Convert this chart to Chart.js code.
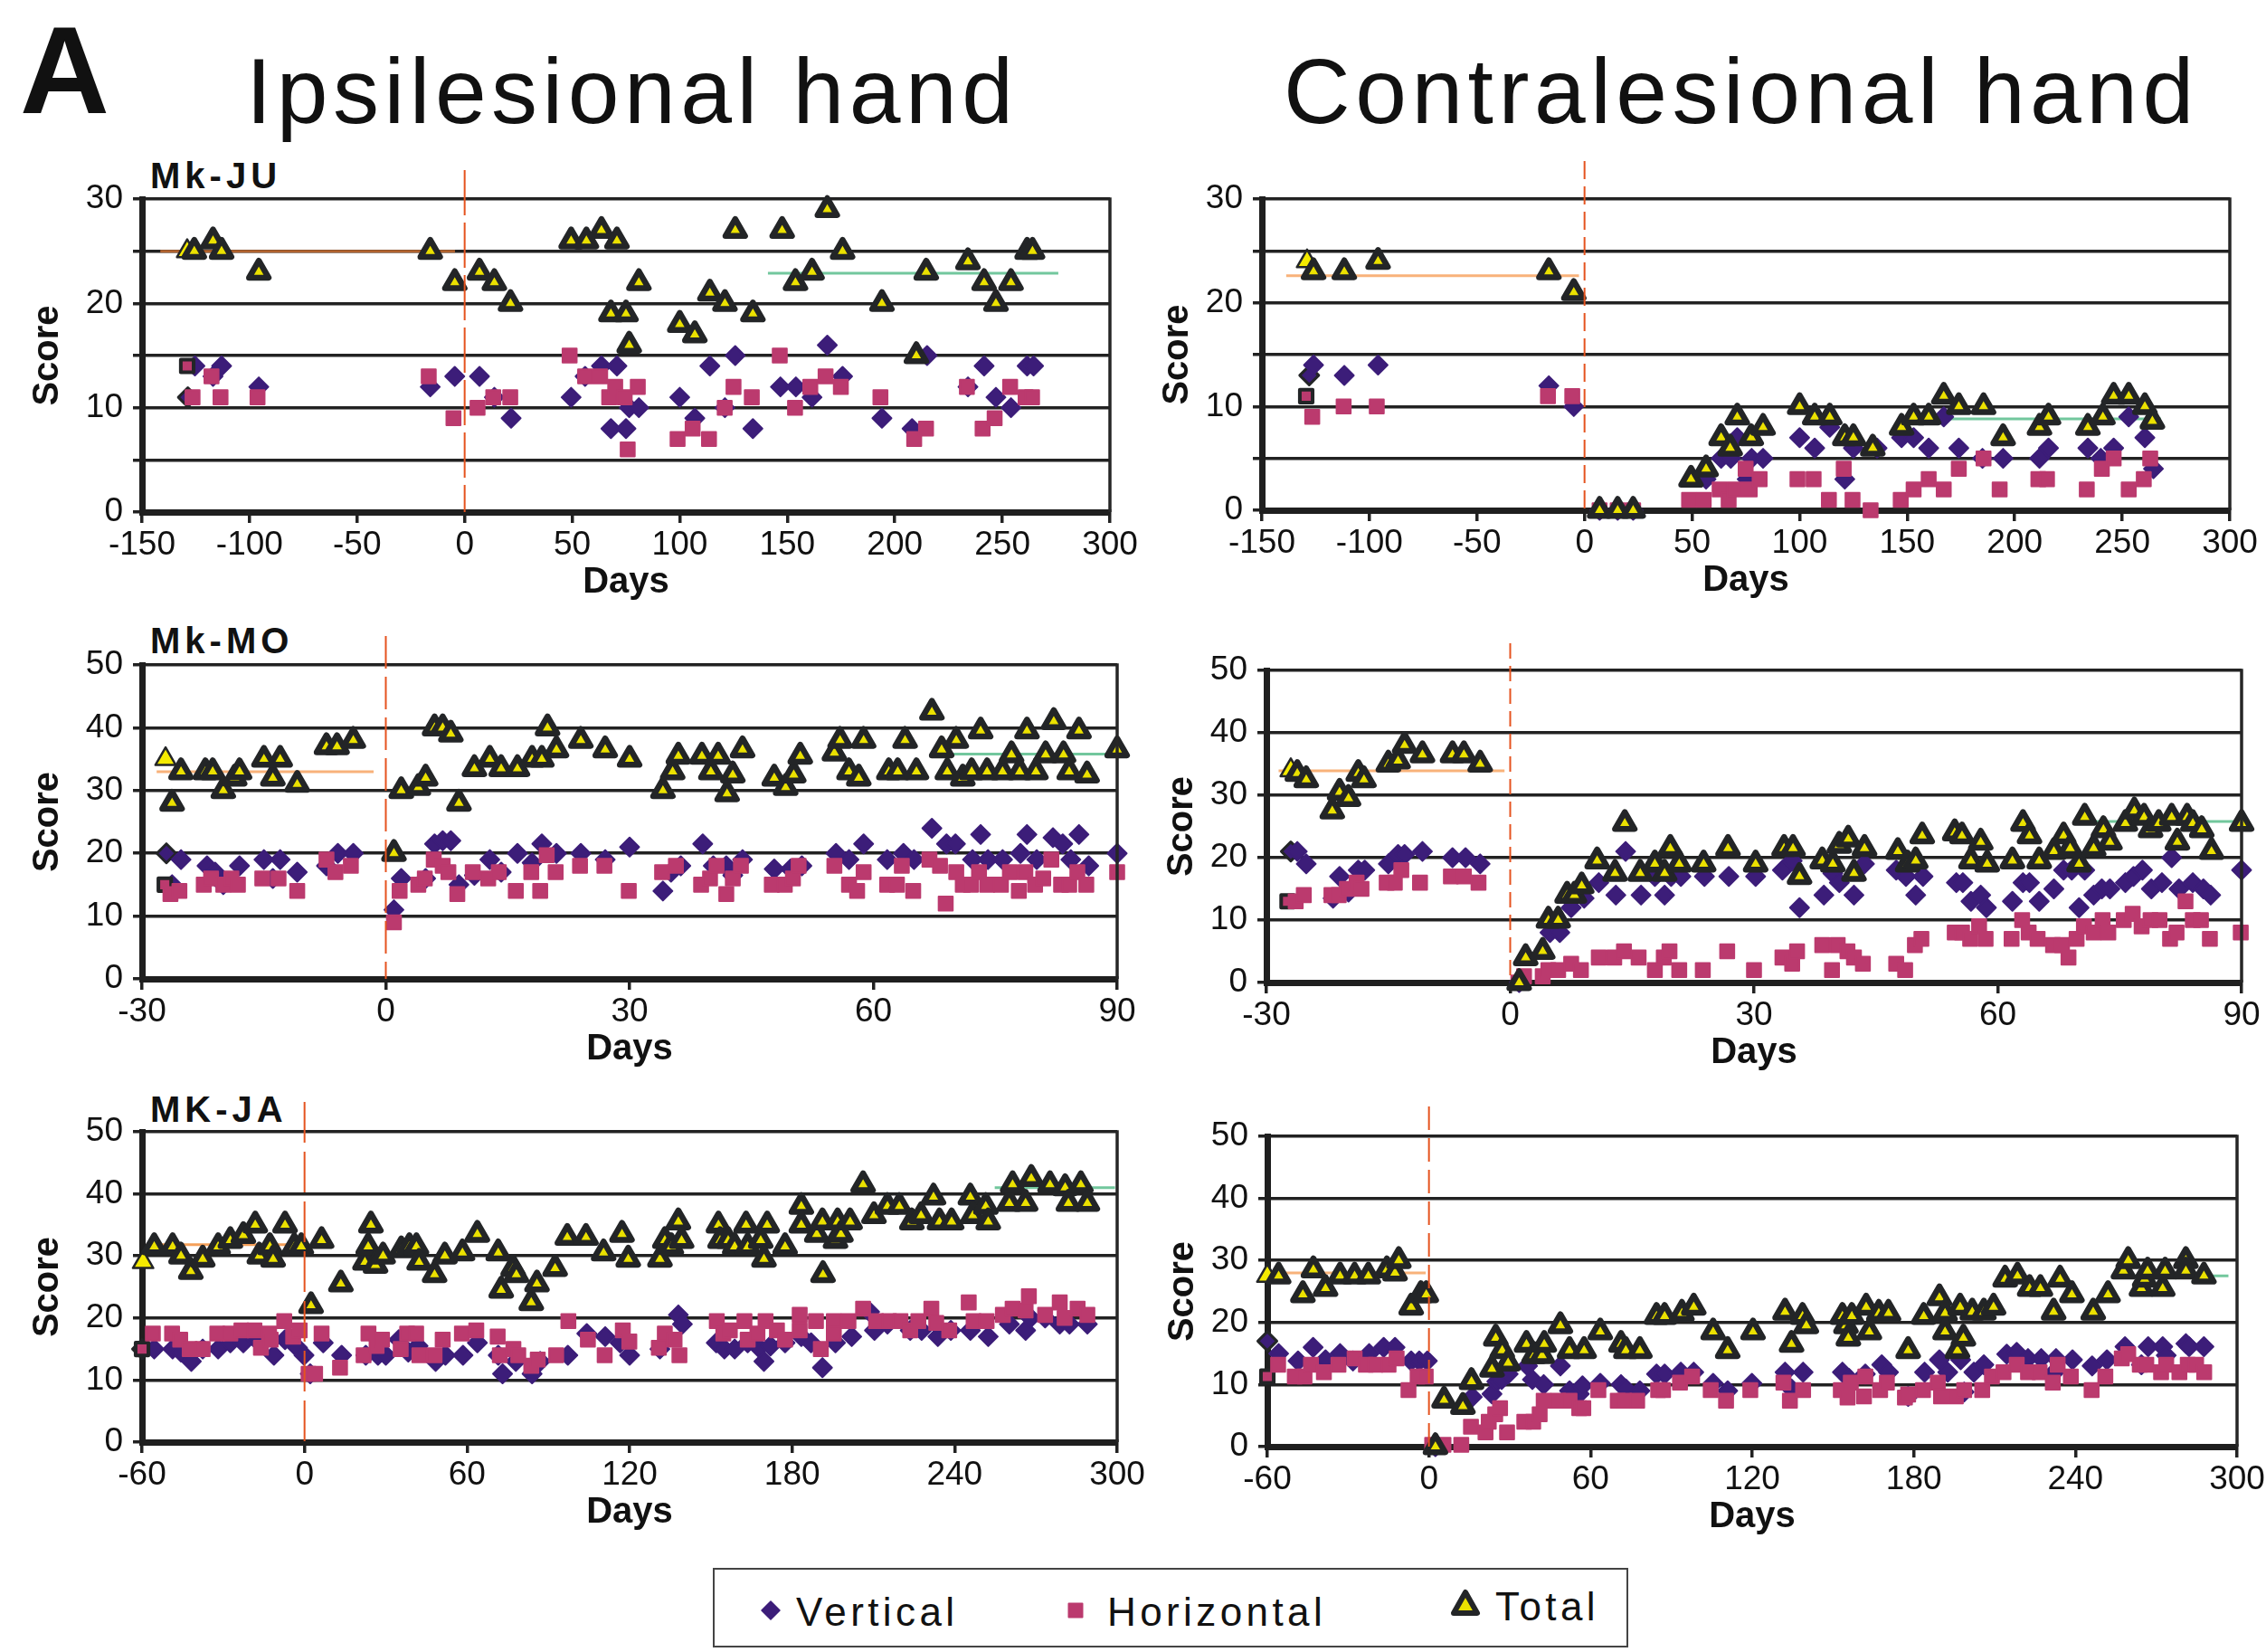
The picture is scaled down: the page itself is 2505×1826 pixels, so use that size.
<!DOCTYPE html>
<html><head><meta charset="utf-8">
<script src="https://cdn.jsdelivr.net/npm/chart.js@4.4.1/dist/chart.umd.min.js"></script>
<style>
body{margin:0;width:2505px;height:1826px;background:#fff;position:relative;overflow:hidden;font-family:"Liberation Sans",Arial,sans-serif;}
canvas{position:absolute;}
.t{position:absolute;line-height:1;white-space:nowrap;color:#111;}
</style></head><body>
<script>
// ---------------- DATA: [day, score] ----------------
const juIpsiTotal = [[-129,25],[-125.7,25],[-117,26],[-113,25],[-95.7,23],[-16,25],[-4.6,22],[6.9,23],[13.8,22],[21.3,20],[49.5,26],[56.6,26],[63.6,27],[68,19],[70.8,26],[75,19],[76.5,16],[81,22],[100,18],[107,17],[114,21],[121,20],[125.8,27],[134,19],[147.6,27],[153.8,22],[161.5,23],[168.6,29],[175.7,25],[194,20],[210,15],[214.6,23],[234,24],[241.5,22],[247,20],[254,22],[261.5,25],[264,25]];
const juIpsiVertical = [[-128.7,11],[-125.4,14],[-117,13],[-113,14],[-95.7,12],[-16,12],[-4.6,13],[6.9,13],[13.8,11],[21.6,9],[49.5,11],[56,13],[63.6,14],[68,8],[70.8,14],[75,8],[76.5,10],[81,10],[100,11],[107,9],[114,14],[121,10],[125.8,15],[134,8],[146.8,12],[154,12],[161.5,11],[168.6,16],[175.7,13],[194,9],[208,8],[215,15],[234,12],[241.5,14],[247,11],[254,10],[261.5,14],[264.5,14]];
const juIpsiHorizontal = [[-129,14],[-126.5,11],[-117.7,13],[-113.5,11],[-96.3,11],[-16.7,13],[-5.2,9],[6,10],[13.3,11],[21.2,11],[48.8,15],[56,13],[63,13],[67.2,11],[70,12],[74.4,11],[75.8,6],[80.5,12],[99,7],[106,8],[113.6,7],[120.9,10],[125,12],[133.5,11],[146.5,15],[153.6,10],[160.7,12],[167.8,13],[174.9,12],[193.3,11],[209,7],[214.5,8],[233.5,12],[240.8,8],[246.4,9],[253.6,12],[260.8,11],[263.8,11]];
const juIpsiPreMean = [[-141.5,25],[-4.5,25]];
const juIpsiPostMean = [[141,22.9],[276,22.9]];

const juContraTotal = [[-129,24],[-126,23],[-111.7,23],[-96,24],[-16.6,23],[-5,21],[7,0],[15.4,0],[22.6,0],[49.5,3],[56.5,4],[63.5,7],[67.7,6],[71,9],[77.5,7],[83,8],[100,10],[107,9],[114,9],[121,7],[125,7],[134,6],[147.4,8],[153,9],[160,9],[167,11],[174,10],[185.5,10],[194.6,7],[211.5,8],[215.7,9],[234,8],[241,9],[246,11],[253,11],[260.5,10],[264,8.6]];
const juContraVertical = [[-128,13],[-126,14],[-111.7,13],[-96,14],[-16.6,12],[-5,10],[7,0],[15.4,0],[22.6,0],[56.5,3],[63.5,5],[68,5],[71,7],[75.6,3],[77.7,5],[83,5],[100,7],[107,6],[114,8],[121,3],[125,6],[136,6],[147.4,7],[153,7],[160,6],[167,9],[174,6],[185,5],[194.6,5],[211.5,5],[215.7,6],[234,6],[240,5],[246,6],[253,9],[260.5,7],[264.5,4]];
const juContraHorizontal = [[-129.4,11],[-126.6,9],[-112,10],[-96.6,10],[-17,11],[-5.7,11],[7,0],[15.4,0],[22.6,0],[48.6,1],[55.4,1],[62.8,2],[67,1],[69.8,2],[74.9,4],[76.8,2],[81.4,3],[99,3],[106.5,3],[113.6,1],[120.5,4],[124.6,1],[133,0],[147,1],[153,2],[160,3],[167,2],[174,4],[185.5,5],[193,2],[211,3],[215,3],[233.5,2],[240.5,4],[246,5],[253,2],[260,3],[263,5]];
const juContraPreMean = [[-138.7,22.6],[-2.6,22.6]];
const juContraPostMean = [[149.5,8.8],[268,8.8]];

const moIpsiTotal = [[-27.1,35],[-26.3,28],[-25.2,33],[-22.2,33],[-21.3,33],[-20,30],[-18.6,32],[-18,33],[-15,35],[-13.9,32],[-13,35],[-10.9,31],[-7.3,37],[-6,37],[-4,38],[1,20],[1.9,30],[4,30.5],[4.9,32],[6,40],[7,40],[8,39],[9,28],[10.9,33.5],[12.8,35],[14.2,33.5],[16.2,33.5],[18,35],[19.2,35],[19.9,40],[21,36.5],[24,38],[27,36.5],[30,35],[34.1,30],[35.3,33],[36,35.5],[38.9,35.5],[40,33],[40.9,35.5],[42,29.5],[42.7,32.5],[43.9,36.5],[47.8,32],[49.2,30.5],[50.2,32.5],[51,35.5],[55.2,36],[55.9,38],[57,33],[58.2,32],[58.8,38],[61.9,33],[63,33],[63.9,38],[65.3,33],[67.2,42.5],[68.4,36.5],[69.1,33],[70.2,38],[71,32],[72.1,33],[73.2,39.5],[74,33],[75.9,33],[77,35.7],[78,33],[78.9,39.5],[80,33],[81.2,35.7],[82.2,41],[83.4,35.7],[84.1,33],[85.3,39.5],[86.3,32.5],[90,36.5]];
const moIpsiVertical = [[-27,20],[-26.3,15],[-25.2,19],[-22,18],[-21,17],[-20,15],[-18,18],[-15,19],[-13.9,16],[-13,19],[-10.9,17],[-7.3,18],[-5.9,20],[-4,20],[1,11],[1.9,16],[4.9,16],[6,21.5],[7,22],[8,22],[9,15],[10.9,16.5],[12.8,19],[14.2,17],[16.2,20],[18,18.5],[19.2,21.5],[21,20],[24,20],[27,19],[30,21],[34.1,14],[35.1,17],[36.3,18],[39,21.5],[40.3,18],[41.9,18],[42.7,16.5],[43.9,19],[47.8,17.5],[49.8,17.5],[51.2,18],[55.4,20],[57,19],[58.8,21.5],[61.7,19],[63.7,20],[65,19],[67.2,24],[69,21.5],[70.1,21.5],[72.2,19],[73.2,23],[74.1,19],[75.9,19],[78.1,20],[78.9,23],[80.1,19],[82.1,22.5],[83.3,21.5],[84.3,19],[85.3,23],[86.5,18],[90,20]];
const moIpsiHorizontal = [[-27.2,15],[-26.5,13.5],[-25.4,14],[-22.4,15],[-21.5,16],[-20,15],[-19,16],[-18.2,15],[-15.2,16],[-13.2,16],[-10.9,14],[-7.3,19],[-6.2,17],[-4.3,18],[1,9],[1.7,14],[4,15],[4.8,16],[5.9,19],[7,18],[7.7,17],[8.8,13.5],[10.7,17],[12.6,16],[13.9,17],[16,14],[17.9,17],[19,14],[19.8,19.7],[20.9,17],[23.9,18],[26.9,18],[29.9,14],[34,17],[35.7,18],[38.8,15],[39.9,16],[40.7,18],[41.9,13.5],[42.7,16],[43.7,18],[47.5,15],[49.1,15],[50.1,16],[50.8,18],[55.2,18],[57,15],[58,14],[58.8,17],[61.7,15],[62.9,15],[63.5,18],[64.9,14],[66.9,19],[68.2,18],[68.9,12],[70.2,17],[71,15],[72,15],[73,17],[74,15],[75.7,15],[76.8,17],[77.9,14],[78.7,17],[79.9,15],[80.9,16],[81.9,19],[83.1,15],[84.1,15],[85.1,17],[86.2,15],[90,17]];
const moIpsiPreMean = [[-28.2,33],[-1.5,33]];
const moIpsiPostMean = [[69.6,35.8],[90,35.8]];

const moContraTotal = [[-27,34],[-26.2,33.5],[-25.1,32.5],[-21.9,27.5],[-21,30.5],[-19.9,29.5],[-18.7,33.5],[-18,32.5],[-15,35],[-13.8,35.5],[-13,38],[-10.8,36.5],[-7.1,36.5],[-5.7,36.5],[-3.7,35],[1.1,0],[1.9,4],[4,5],[4.7,10],[5.9,10],[7,14],[7.9,14],[8.8,15.5],[10.7,19.5],[12.9,17.5],[14.1,25.5],[16,17.5],[17.8,19],[19,17.5],[19.7,21.5],[20.8,19],[23.8,19],[26.8,21.5],[30.2,19],[33.7,21.5],[34.8,21.5],[35.6,17],[38.4,19.5],[39.7,19],[40.5,22],[41.6,23],[42.3,17.5],[43.6,21.5],[47.7,21],[48.9,19],[49.9,19.5],[50.7,23.5],[54.7,24],[55.6,23.5],[56.7,19.5],[57.9,22.5],[58.7,19],[61.8,19.5],[63.1,25.5],[63.9,23.5],[65.1,19.5],[66.9,21],[68.1,23.5],[68.9,21.5],[70,19],[70.7,26.5],[71.8,21.5],[73,24.5],[73.8,22.5],[75.7,25.5],[76.8,27.5],[78,26.5],[78.8,24.5],[79.8,25.5],[81.4,26.5],[82.1,22.5],[83.3,26.5],[84,25.5],[85.1,24.5],[86.3,21],[90,25.5]];
const moContraVertical = [[-27,21],[-26.2,21],[-25.1,19],[-21.8,13.5],[-21,17],[-19.9,14.5],[-18.7,18],[-17.9,18],[-15,19],[-13.8,20.5],[-13,20.5],[-10.8,21],[-7.1,20],[-5.5,20],[-3.7,19],[1.1,0],[4.9,8],[6.1,8],[7.5,12],[9.1,13.5],[10.9,16],[13,14],[14.2,21],[16.1,14],[17.8,17],[19,14],[19.8,17],[21,17],[23.9,17],[26.9,17],[30.2,17],[33.5,18],[34.7,19.5],[35.6,12],[38.6,14],[39.7,17.5],[40.5,16],[42.3,14],[43.6,19],[47.5,18],[48.7,17],[49.9,14],[50.8,17],[54.9,16],[55.7,16],[56.7,13],[57.9,14],[58.6,12],[61.8,13],[63.1,16],[63.9,16],[65.1,13],[66.9,15],[68.1,18],[69.1,18],[70,12],[70.7,18],[71.8,14],[72.8,15],[73.8,15],[75.7,16],[76.7,17],[77.8,18],[78.9,15],[80.2,16],[81.4,20],[82.3,15],[84,16],[85.3,15],[86.2,14],[90,18]];
const moContraHorizontal = [[-27.4,13],[-26.4,13],[-25.4,14],[-22,14],[-21.1,14],[-20.1,15],[-18.9,16],[-18.3,15],[-15.2,16],[-14.2,16],[-13.4,18],[-11.1,16],[-7.3,17],[-5.7,17],[-3.9,16],[1,0],[1.7,1],[4,1],[4.7,2],[5.9,2],[7.5,3],[8.7,2],[10.9,4],[12.8,4],[14,5],[15.8,4],[17.8,2],[18.9,4],[19.6,5],[20.8,2],[23.7,2],[26.7,5],[30,2],[33.5,4],[34.7,3],[35.3,5],[38.4,6],[39.6,2],[40.3,6],[41.5,5],[42.3,4],[43.4,3],[47.5,3],[48.6,2],[49.8,6],[50.6,7],[54.7,8],[55.6,8],[56.6,7],[57.7,9],[58.5,7],[61.7,7],[63,10],[63.8,8],[64.9,7],[66.8,6],[67.9,6],[68.7,4],[69.7,7],[70.6,9],[71.8,8],[72.9,10],[73.6,8],[75.5,10],[76.6,11],[77.7,9],[78.8,10],[79.9,10],[81.2,7],[82,8],[83.1,13],[84,10],[85,10],[86.1,7],[89.9,8]];
const moContraPreMean = [[-28.5,33.9],[-0.7,33.9]];
const moContraPostMean = [[69.3,25.8],[90,25.8]];

const jaIpsiTotal = [[-59.6,29],[-55.5,31.5],[-48.7,31.5],[-45.6,30],[-42,27.5],[-37.6,29.5],[-31.9,31.5],[-27.4,32.5],[-22.6,33.3],[-18.2,35],[-16.7,30],[-12.8,31.5],[-11.6,29.5],[-7.2,35],[-3.8,31.5],[-1.2,31.5],[2.4,22],[6.3,32.5],[13.4,25.5],[22.3,29],[23.5,31.5],[24.5,35],[26.2,28.5],[29,30],[35.7,31],[38.7,31.5],[41.3,31.5],[42.3,29],[48,27],[51.8,30],[58.3,30.5],[63.8,33.5],[71.5,30.5],[72.6,24.5],[77,28],[78.2,27],[83.7,22.5],[85.8,25.5],[92.5,28],[97,33],[103.9,33],[110.4,30.5],[117.2,33.5],[119.5,29.5],[131.2,29.5],[133,32.5],[135.4,31.5],[138,35.5],[139.2,32.5],[152.8,35],[153.4,32.5],[156.4,32.5],[158.8,31.5],[163,35],[163.6,31.5],[168.4,32.5],[169.6,29.5],[170.8,35],[177.4,31.5],[183.4,38],[183.4,35],[189.1,33.5],[191.2,35.5],[191.4,27],[196,32.5],[196.8,35.5],[198,33.5],[201.4,35.5],[206.2,41.5],[210.2,36.5],[215.2,38],[219.6,38],[224.2,35.5],[227.6,36.5],[232.2,39.5],[234.4,35.5],[238.9,35.5],[245.8,39.5],[246.7,36.5],[251.5,38],[252.4,35.5],[260.2,38.5],[261.4,41.5],[266.2,38.5],[268.3,42.5],[275.2,41.5],[280.8,41],[282,38.5],[286.6,41.5],[289,38.5]];
const jaIpsiVertical = [[-60,15],[-55.5,15],[-48.7,15],[-45.6,14.5],[-41.8,13],[-37.6,15],[-31.9,15],[-27.4,16],[-22.6,16],[-17.8,16.5],[-11.3,14],[-7.2,16.5],[-2.6,15.2],[-0.2,14],[2.1,11],[6.9,16],[13.7,14],[22.6,14],[27.1,14],[30,14],[34.8,16.5],[38.3,14.5],[41.9,15.5],[48.4,13],[52,14],[58.5,14],[63.8,16],[71.5,14],[73.1,11],[78,13],[84,11],[87,13],[97.2,14],[104.2,17.5],[111,17],[116.5,16],[120,14],[131.2,15],[138,20.5],[139.5,19],[152,16],[155,15],[158.8,15],[163.6,16],[167.8,15.2],[169.6,13],[172,15.5],[177.4,16],[183.4,17],[187,16],[191.2,12],[196,16],[202,17],[208.6,21],[210.4,18],[215.2,19],[223.6,18],[227.8,18],[233.8,17],[238.6,18],[245.8,18],[252.4,17],[260.2,19],[266.2,18],[268,20],[273.4,20],[278.8,19],[282.4,19],[289,19]];
const jaIpsiHorizontal = [[-60,15],[-56,17.5],[-48.9,17.5],[-45.9,16.5],[-42.4,15],[-37.6,15],[-32.2,17.5],[-27.4,17.5],[-23.3,18],[-18.5,18],[-16.1,15.2],[-13.1,17.5],[-12.5,16.5],[-7.5,19.5],[-4.2,17],[-1.8,18],[1.5,11],[3.9,11],[6.3,17.5],[13.1,12],[21.8,14],[23.6,17.5],[26.6,15.5],[28.6,16.5],[35.5,15],[37.9,17.5],[41.2,17.5],[42.4,14],[48,14],[51,16.5],[58.1,17.5],[63.4,18],[71.3,17],[72.1,14],[77.1,15],[78.9,14],[83.7,12.3],[86.1,13.3],[92.9,14],[97.4,19.5],[104.6,16.5],[110.8,14],[117.5,18],[119.9,16.2],[130.8,15.2],[133,17.5],[136.6,16.5],[138.4,14],[152.2,19.5],[154.6,17.5],[157,18],[162.4,19.5],[163.6,16.5],[167.2,17.5],[170.2,19.5],[174.4,18],[177.4,16.5],[182.8,20.5],[182.8,18],[188.8,19.5],[190.6,15],[195.4,19.5],[195.4,17.5],[200.8,19.5],[206.2,21.5],[211,19.5],[215.8,19.5],[220,19.5],[223.6,18],[226.6,19.5],[231.4,21.5],[233.2,19.2],[238,18],[245.2,22.5],[247,19.5],[251.8,19.5],[257.8,20.5],[261.4,21.5],[266.2,21.2],[267.4,23.5],[273.4,20.5],[278.8,22.5],[280.6,20],[285.4,21.5],[289,20.5]];
const jaIpsiPreMean = [[-58.4,31.8],[-0.8,31.8]];
const jaIpsiPostMean = [[254.8,41],[299.2,41]];

const jaContraTotal = [[-60,27.5],[-55.8,27.5],[-46.8,24.5],[-42.9,28.5],[-38.4,25.5],[-33,27.5],[-27.6,27.5],[-22.5,27.5],[-15.6,28.5],[-12.6,28],[-11.2,30],[-6.6,22.5],[-3,24.5],[-1,24.5],[2.4,0],[5.6,7.5],[12.6,6.5],[15.8,10.5],[23.4,12.5],[24.8,17.5],[27.2,15.5],[29.4,13.5],[36.2,16.5],[39,14.7],[42,14.7],[42.8,16.5],[48.8,19.5],[52.2,15.5],[57.6,15.5],[63.6,18.5],[71.3,16.5],[73.1,15.5],[78.3,15.5],[84.5,21],[87.5,21],[93.9,21.5],[98.3,22.5],[105.5,18.5],[110.9,15.5],[120.3,18.5],[132.2,21.7],[134.6,16.5],[138.7,21],[140.1,19.5],[153.5,21],[154.8,19.5],[155.7,17.5],[157,21],[162.3,22.5],[163.5,18.5],[167,21.5],[170.6,21.5],[177.9,15.5],[183.7,21],[189.5,24],[191.6,21.5],[191.6,18.5],[196.2,15.5],[197.2,22.5],[198.4,17.5],[201.7,21.7],[206,21.7],[209.6,22.5],[213.9,27],[218.5,27.5],[223,25.5],[227,25.5],[231.9,21.7],[234.3,27],[238.7,24.5],[246.6,21.7],[252.1,24.5],[257.8,28.3],[259.6,30],[264.5,25.5],[265.7,27],[266.8,28.3],[272.4,25.5],[273.3,28.3],[281,30],[281,28.3],[287.7,27.5]];
const jaContraVertical = [[-60,17],[-55.8,15],[-48.6,13.8],[-43,16],[-38.4,14],[-33,15],[-28.2,13.8],[-22.2,15],[-16.8,16],[-12.6,16],[-6.6,13.8],[-3.6,13.8],[-0.6,13.8],[2.4,0],[16.1,8],[23.4,8.5],[25.2,10.5],[27,10.8],[29.4,11.7],[36.6,13],[38.4,10.8],[42.6,10],[48.8,13],[52.2,9],[55.8,8.5],[57,9.8],[63.6,10.2],[71.3,10],[73.1,9.3],[78.3,9],[84.5,11.7],[87.5,11.7],[93.5,12],[98.3,12],[105.5,10.2],[110.9,9],[119.9,10.2],[132.2,12],[134.6,9.3],[138.9,12],[153.5,12],[155.9,11],[162,11.7],[168.1,13.2],[170.6,12],[177.9,8.1],[184,12],[189.5,14],[192.6,12],[197.4,14],[198.7,8.8],[202.3,12],[206,13.2],[214.5,14.9],[218.2,15.2],[222.4,14.2],[227.3,14.2],[232.2,12],[232.8,14.2],[238.9,14],[246.2,13],[251.7,14],[258.4,16.1],[264.5,13.2],[267,16.1],[272.4,16.1],[273.7,14.7],[281,16.6],[282.2,16.1],[287.7,16.1]];
const jaContraHorizontal = [[-60,11.3],[-56,13.2],[-49.8,11.3],[-46.2,11.3],[-43.8,13.2],[-39,12],[-33.6,13.2],[-27.6,14.2],[-23.4,13.2],[-19.8,13.2],[-15,13.2],[-12,14.2],[-7.6,9.1],[-4.2,11.3],[-1.2,11.3],[1.2,0.3],[5.4,0.3],[12,0.3],[15.6,3.2],[21,2.3],[22.2,4],[24.6,5.2],[26.4,6.2],[29,2.3],[35.4,4],[38.7,4],[41.1,5.2],[42.6,7.4],[48,7.4],[52.2,7.4],[55.8,6.2],[57.3,6.2],[62.9,9.1],[70.1,7.4],[72.5,7.4],[77.3,7.4],[85.1,9.1],[86.9,9.1],[93.2,10.3],[97.7,11.3],[104.6,9.1],[110.3,7.4],[119.3,9.1],[131.6,10.3],[134,7.4],[138.9,9.1],[152.9,9.1],[155.4,7.9],[156.6,10.3],[161.5,8.1],[162,11.3],[167.5,9.1],[170,10.3],[176.7,7.9],[177.9,8.4],[183.4,9.1],[188.9,10.3],[190.1,8.1],[195.6,8.1],[198.7,9.1],[205.4,9.1],[209,11.3],[213.3,12],[218.2,13.2],[222.4,12],[226.7,12],[231.6,10.3],[233.4,13.2],[238.3,11.3],[246,9.1],[251.1,11.3],[257.2,14.2],[259.6,14.9],[263.9,13.2],[266.3,13.2],[271.8,12],[273.7,13.2],[278.6,12],[281.7,13.2],[284.8,13.2],[287.8,12]];
const jaContraPreMean = [[-59.4,28],[-1.2,28]];
const jaContraPostMean = [[255.7,27.5],[296.8,27.5]];

// axis ranges: [min, max, step]
const juDayAxis = [-150, 300, 50];
const moDayAxis = [-30, 90, 30];
const jaDayAxis = [-60, 300, 60];
const juScoreAxis = [0, 30, 5];
const wideScoreAxis = [0, 50, 10];
const seriesNames = ['Vertical', 'Horizontal', 'Total'];
const columnTitles = ['Ipsilesional hand', 'Contralesional hand'];
const monkeyNames = ['Mk-JU', 'Mk-MO', 'MK-JA'];

// ---------------- STYLE / LAYOUT ----------------
const FONT = '"Liberation Sans", Arial, sans-serif';
const COL_V = '#3c1d79', COL_H = '#bb3a6e', COL_T = '#ebe100', COL_K = '#232527';

function addText(txt, left, baseline, size, opts = {}) {
  const d = document.createElement('div');
  d.className = 't';
  d.textContent = txt;
  d.style.left = left + 'px';
  d.style.top = (baseline - 0.8465 * size) + 'px';
  d.style.fontSize = size + 'px';
  d.style.fontWeight = opts.bold ? 'bold' : 'normal';
  d.style.letterSpacing = (opts.ls || 0) + 'px';
  document.body.appendChild(d);
}
addText('A', 22, 125, 137, {bold: true});
addText(columnTitles[0], 272, 136, 102, {ls: 5.5});
addText(columnTitles[1], 1419, 136, 102, {ls: 5.5});
addText(monkeyNames[0], 166, 208, 40, {bold: true, ls: 5});
addText(monkeyNames[1], 166, 722, 40, {bold: true, ls: 5});
addText(monkeyNames[2], 166, 1240, 40, {bold: true, ls: 5});

const pts = a => a.map(p => ({x: p[0], y: p[1]}));

const framePlugin = {
  id: 'frame',
  beforeDatasetsDraw(chart) { chart.ctx.lineJoin = 'round'; },
  afterDatasetsDraw(chart, args, opts) {
    const {ctx, chartArea: a} = chart;
    const xs = chart.scales.x;
    ctx.save();
    ctx.lineJoin = 'miter';
    ctx.strokeStyle = '#262626'; ctx.lineWidth = 3.5;
    ctx.beginPath(); ctx.moveTo(a.right, a.top - 1.75); ctx.lineTo(a.right, a.bottom); ctx.stroke();
    const px = xs.getPixelForValue(0);
    ctx.strokeStyle = '#e5531f'; ctx.lineWidth = 2; ctx.setLineDash(opts.dash);
    ctx.beginPath(); ctx.moveTo(px, a.top - opts.over); ctx.lineTo(px, a.bottom); ctx.stroke();
    ctx.restore();
  }
};

const Y_W = 157, X_H = 110, PAD_T = 60, PAD_R = 36;

function makePanel(g, total, vert, hor, pre, post, dayAxis, scoreAxis, preColor) {
  const cv = document.createElement('canvas');
  const w = Y_W + (g.r - g.l) + PAD_R;
  const h = PAD_T + (g.b - g.t) + X_H;
  cv.width = w; cv.height = h;
  cv.style.left = (g.l - Y_W) + 'px';
  cv.style.top = (g.t - PAD_T) + 'px';
  cv.style.width = w + 'px'; cv.style.height = h + 'px';
  document.body.appendChild(cv);
  const first = (a, b) => c => c.dataIndex === 0 ? a : b;
  new Chart(cv, {
    type: 'scatter',
    data: {
      datasets: [
        {label: seriesNames[2], data: pts(total), clip: false,
         pointStyle: 'triangle', pointRadius: first(13, 12.5), pointBorderWidth: first(2.5, 6.5),
         pointBackgroundColor: first('#f4ea00', COL_T), pointBorderColor: COL_K},
        {label: seriesNames[1], data: pts(hor), clip: false,
         pointStyle: 'rect', pointRadius: first(10, 11), pointBorderWidth: first(4, 2),
         pointBackgroundColor: COL_H, pointBorderColor: first(COL_K, COL_H)},
        {label: seriesNames[0], data: pts(vert), clip: false,
         pointStyle: 'rectRot', pointRadius: 10.5, pointBorderWidth: first(3, 2),
         pointBackgroundColor: COL_V, pointBorderColor: first(COL_K, COL_V)},
        {type: 'line', data: pts(pre), borderColor: preColor, borderWidth: 3, pointRadius: 0, fill: false},
        {type: 'line', data: pts(post), borderColor: '#72c79d', borderWidth: 3, pointRadius: 0, fill: false}
      ]
    },
    options: {
      responsive: false, animation: false, devicePixelRatio: 1,
      layout: {padding: {top: PAD_T, right: PAD_R, left: 0, bottom: 0}},
      plugins: {legend: {display: false}, tooltip: {enabled: false},
                frame: {dash: g.dash, over: g.over}},
      scales: {
        x: {type: 'linear', min: dayAxis[0], max: dayAxis[1],
            afterFit(s) { s.height = X_H; },
            ticks: {stepSize: dayAxis[2], autoSkip: false, maxRotation: 0, color: '#111',
                    padding: 3, font: {family: FONT, size: 37}},
            grid: {display: true, drawOnChartArea: false, drawTicks: true, tickLength: 12,
                   color: '#222', lineWidth: 3.5},
            border: {color: '#1f1f1f', width: 7},
            title: {display: true, text: 'Days', color: '#111',
                    font: {family: FONT, size: 40, weight: 'bold'}, padding: {top: 0, bottom: 8}}},
        y: {min: scoreAxis[0], max: scoreAxis[1],
            afterFit(s) { s.width = Y_W; },
            ticks: {stepSize: scoreAxis[2], autoSkip: false, color: '#111', padding: 11,
                    font: {family: FONT, size: 37},
                    callback: v => (v % 10 === 0 ? v : '')},
            grid: {color: '#222222', lineWidth: 3.5, tickLength: 10, drawTicks: true},
            border: {color: '#1f1f1f', width: 7},
            title: {display: true, text: 'Score', color: '#111',
                    font: {family: FONT, size: 40, weight: 'bold'}, padding: {top: g.tp, bottom: 0}}}
      }
    },
    plugins: [framePlugin]
  });
}

const geo = [
  {l: 157, t: 220, r: 1227, b: 566, tp: 29, dash: [50, 8], over: 32},
  {l: 1395, t: 220, r: 2465, b: 564, tp: 40, dash: [20, 8], over: 42},
  {l: 157, t: 735, r: 1235, b: 1082, tp: 29, dash: [36, 9], over: 32},
  {l: 1400, t: 741, r: 2478, b: 1086, tp: 40, dash: [17, 8], over: 30},
  {l: 157, t: 1251, r: 1235, b: 1594, tp: 29, dash: [45, 10], over: 33},
  {l: 1401, t: 1256, r: 2473, b: 1599, tp: 40, dash: [26, 9], over: 33}
];

makePanel(geo[0], juIpsiTotal, juIpsiVertical, juIpsiHorizontal, juIpsiPreMean, juIpsiPostMean, juDayAxis, juScoreAxis, '#b3642f');
makePanel(geo[1], juContraTotal, juContraVertical, juContraHorizontal, juContraPreMean, juContraPostMean, juDayAxis, juScoreAxis, '#f8b27a');
makePanel(geo[2], moIpsiTotal, moIpsiVertical, moIpsiHorizontal, moIpsiPreMean, moIpsiPostMean, moDayAxis, wideScoreAxis, '#f8b27a');
makePanel(geo[3], moContraTotal, moContraVertical, moContraHorizontal, moContraPreMean, moContraPostMean, moDayAxis, wideScoreAxis, '#f8b27a');
makePanel(geo[4], jaIpsiTotal, jaIpsiVertical, jaIpsiHorizontal, jaIpsiPreMean, jaIpsiPostMean, jaDayAxis, wideScoreAxis, '#f5a05a');
makePanel(geo[5], jaContraTotal, jaContraVertical, jaContraHorizontal, jaContraPreMean, jaContraPostMean, jaDayAxis, wideScoreAxis, '#f8b27a');

// ---------------- LEGEND ----------------
const lg = document.createElement('div');
lg.style.cssText = 'position:absolute;left:788px;top:1733px;width:1008px;height:84px;border:2px solid #444;';
document.body.appendChild(lg);
function addSvg(left, top, w, h, inner) {
  const d = document.createElement('div');
  d.style.cssText = `position:absolute;left:${left}px;top:${top}px;width:${w}px;height:${h}px;`;
  d.innerHTML = `<svg width="${w}" height="${h}" viewBox="0 0 ${w} ${h}">${inner}</svg>`;
  document.body.appendChild(d);
}
addSvg(841, 1769, 22, 22, `<polygon points="11,1 21,11 11,21 1,11" fill="${COL_V}" stroke="${COL_V}" stroke-width="1.5" stroke-linejoin="round"/>`);
addSvg(1180, 1771, 18, 18, `<rect x="1.5" y="1.5" width="15" height="15" fill="${COL_H}" stroke="${COL_H}" stroke-width="2" stroke-linejoin="round"/>`);
addSvg(1603, 1756, 34, 32, `<polygon points="17,4 30,27 4,27" fill="${COL_T}" stroke="${COL_K}" stroke-width="6" stroke-linejoin="round"/>`);
addText(seriesNames[0], 880, 1797, 44, {ls: 4.4});
addText(seriesNames[1], 1224, 1797, 44, {ls: 4.4});
addText(seriesNames[2], 1653, 1791, 44, {ls: 4.4});
</script>
</body></html>
